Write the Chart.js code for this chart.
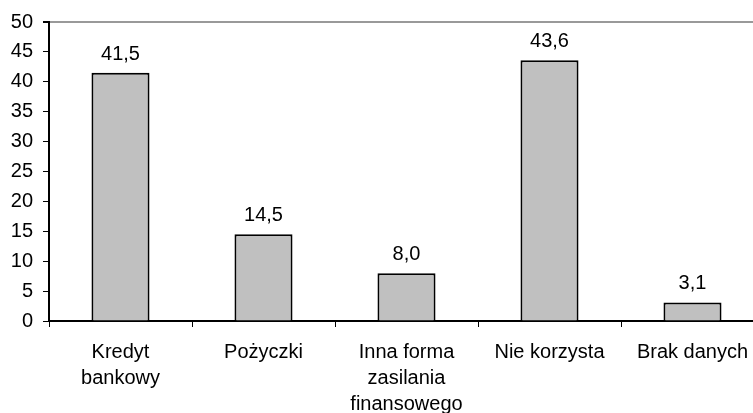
<!DOCTYPE html>
<html lang="pl">
<head>
<meta charset="UTF-8">
<title>Wykres</title>
<style>
  html, body { margin: 0; padding: 0; background: #fff; overflow: hidden; }
  #wrap { position: relative; width: 770px; height: 413px; }
</style>
</head>
<body>
<div id="wrap">
  <canvas id="myChart"></canvas>
</div>
<script src="https://cdn.jsdelivr.net/npm/chart.js"></script>
<script>
    const categories = [
        ['Kredyt', 'bankowy'],
        ['Pożyczki'],
        ['Inna forma', 'zasilania', 'finansowego'],
        ['Nie korzysta'],
        ['Brak danych']
    ];
    const values = [41.5, 14.5, 8.0, 43.6, 3.1];
    const yMin = 0, yMax = 50, yStep = 5;

    const fontFamily = '"Liberation Sans", Arial, sans-serif';

    // values above the bars, decimal comma
    const valueLabels = {
        id: 'valueLabels',
        afterDatasetsDraw(chart) {
            const ctx = chart.ctx;
            const meta = chart.getDatasetMeta(0);
            ctx.save();
            ctx.font = '20px ' + fontFamily;
            ctx.fillStyle = '#000';
            ctx.textAlign = 'center';
            ctx.textBaseline = 'alphabetic';
            meta.data.forEach(function(bar, i) {
                const txt = values[i].toFixed(1).replace('.', ',');
                ctx.fillText(txt, bar.x, bar.y - 13);
            });
            ctx.restore();
        }
    };

    const ctx = document.getElementById('myChart');
    new Chart(ctx, {
        type: 'bar',
        data: {
            labels: categories,
            datasets: [{
                data: values,
                backgroundColor: '#c0c0c0',
                borderColor: '#000',
                borderWidth: 2,
                categoryPercentage: 1,
                barPercentage: 0.406
            }]
        },
        options: {
            responsive: true,
            maintainAspectRatio: false,
            animation: false,
            layout: { padding: { top: 21, right: 6, left: 0, bottom: 0 } },
            plugins: {
                legend: { display: false },
                tooltip: { enabled: false }
            },
            scales: {
                x: {
                    offset: true,
                    grid: {
                        offset: true,
                        drawOnChartArea: false,
                        drawTicks: true,
                        tickLength: 6,
                        tickColor: '#000',
                        tickWidth: 1
                    },
                    border: { color: '#000', width: 2 },
                    ticks: {
                        color: '#000',
                        font: { family: fontFamily, size: 20, lineHeight: 1.3 },
                        padding: 12,
                        maxRotation: 0,
                        autoSkip: false
                    },
                    afterFit(scale) { scale.height = 92; }
                },
                y: {
                    min: yMin,
                    max: yMax,
                    grid: {
                        drawTicks: true,
                        tickLength: 6,
                        tickColor: '#000',
                        color: function(c) { return c.tick && c.tick.value === yMax ? '#999999' : 'rgba(0,0,0,0)'; },
                        lineWidth: function(c) { return c.tick && c.tick.value === yMax ? 2 : 1; }
                    },
                    border: { color: '#000', width: 2 },
                    ticks: {
                        stepSize: yStep,
                        color: '#000',
                        font: { family: fontFamily, size: 20 },
                        padding: 10
                    },
                    afterFit(scale) { scale.width = 49; }
                }
            }
        },
        plugins: [valueLabels]
    });
</script>
</body>
</html>
